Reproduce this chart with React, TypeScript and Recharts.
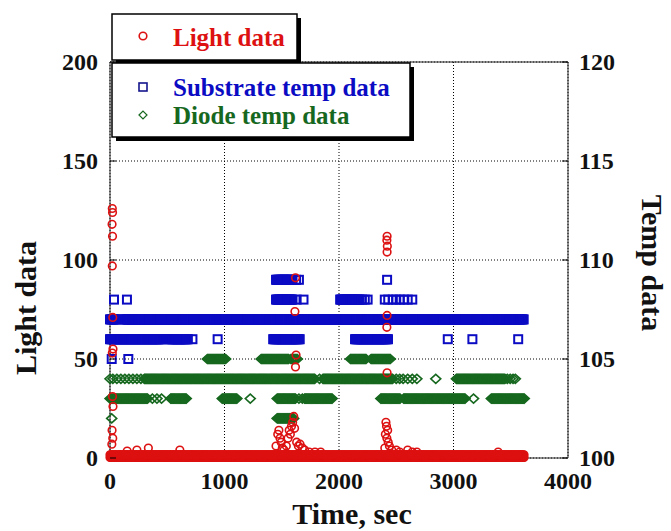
import { ScatterChart, Scatter, XAxis, YAxis, CartesianGrid, ReferenceLine } from 'recharts';

const FONT = '"Liberation Serif", "Times New Roman", serif';
const RED = '#dd1111';
const BLUE = '#0b0bc4';
const GREEN = '#17681f';

// logger sampling interval (sec), used to lay out the runs of constant readings
const STEP = 8;

const timeTicks = [0, 1000, 2000, 3000, 4000];
const lightTicks = [0, 50, 100, 150, 200];
const tempTicks = [100, 105, 110, 115, 120];

// substrate temp: runs of a constant reading [from sec, to sec, temp]
const substrateRuns = [
  [0, 60, 107], [125, 3620, 107],
  [0, 450, 106], [520, 680, 106], [1425, 1660, 106], [2140, 2430, 106],
  [1450, 1600, 108], [2010, 2180, 108],
  [1450, 1600, 109],
];
// substrate temp: isolated readings [sec, temp]
const substrateSingles = [
  [15, 105], [160, 105],
  [35, 108], [148, 108], [1630, 108], [1690, 108], [2200, 108], [2225, 108], [2250, 108],
  [2400, 108], [2430, 108], [2470, 108], [2500, 108], [2530, 108], [2565, 108], [2600, 108], [2640, 108],
  [1625, 109], [1650, 109], [2420, 109],
  [475, 106], [720, 106], [940, 106], [2950, 106], [3165, 106], [3565, 106],
];

// diode temp runs [from sec, to sec, temp]
const diodeRuns = [
  [850, 1010, 105], [1320, 1560, 105], [1580, 1640, 105], [2100, 2240, 105], [2280, 2450, 105],
  [300, 1790, 104], [1860, 2470, 104], [3025, 3450, 104],
  [0, 330, 103], [530, 670, 103], [980, 1110, 103], [1460, 1620, 103], [1700, 1940, 103],
  [2365, 2540, 103], [2565, 3105, 103], [3330, 3625, 103],
  [1460, 1610, 102],
];
const diodeSingles = [
  [0, 104], [25, 104], [60, 104], [95, 104], [130, 104], [165, 104], [200, 104], [235, 104], [270, 104],
  [1830, 104], [2500, 104], [2530, 104], [2560, 104], [2600, 104], [2640, 104], [2680, 104], [2845, 104],
  [3470, 104], [3495, 104], [3520, 104], [3540, 104],
  [370, 103], [410, 103], [450, 103], [1225, 103], [1650, 103], [1680, 103], [3175, 103],
  [15, 102],
];

// light data: baseline runs and the spikes [sec, value]
const lightRuns = [[0, 3620, 0.3], [0, 3620, 1.6]];
const lightSingles = [
  [20, 126], [22, 124], [18, 118], [22, 112], [20, 97], [24, 71], [26, 55], [20, 53], [22, 31], [26, 26],
  [18, 14], [24, 10], [16, 7],
  [150, 3.5], [235, 4], [335, 5], [610, 4],
  [1450, 6], [1465, 12], [1475, 14], [1485, 10], [1495, 8], [1505, 5], [1520, 4], [1540, 6], [1555, 10],
  [1565, 14], [1575, 12], [1585, 16], [1595, 18], [1605, 21], [1612, 15], [1620, 91], [1615, 74],
  [1625, 52], [1620, 46], [1630, 8], [1645, 6], [1660, 7], [1680, 5], [1700, 4], [1740, 3], [1790, 3], [1840, 3],
  [2405, 12], [2410, 18], [2415, 16], [2420, 112], [2418, 110], [2422, 107], [2420, 104], [2420, 72],
  [2418, 66], [2420, 43], [2425, 14], [2418, 10], [2430, 8], [2440, 6], [2400, 5], [2460, 4], [2500, 4],
  [2530, 3], [2600, 4], [2640, 3], [2680, 3], [3390, 3],
];

const toPoints = (runs: number[][], singles: number[][]) => {
  const pts: { t: number; v: number }[] = [];
  runs.forEach(([a, b, v]) => {
    for (let t = a; t <= b; t += STEP) pts.push({ t, v });
  });
  singles.forEach(([t, v]) => pts.push({ t, v }));
  return pts;
};

const substrateData = toPoints(substrateRuns, substrateSingles);
const diodeData = toPoints(diodeRuns, diodeSingles);
const lightData = toPoints(lightRuns, lightSingles);

const CircleMark = (p: any) => (
  <circle cx={p.cx} cy={p.cy} r={3.8} fill="none" stroke={RED} strokeWidth={1.6} />
);
const SquareMark = (p: any) => (
  <rect x={p.cx - 4} y={p.cy - 4} width={8} height={8} fill="none" stroke={BLUE} strokeWidth={2} />
);
const DiamondMark = (p: any) => (
  <path
    d={`M${p.cx - 5},${p.cy}L${p.cx},${p.cy - 4.5}L${p.cx + 5},${p.cy}L${p.cx},${p.cy + 4.5}Z`}
    fill="none"
    stroke={GREEN}
    strokeWidth={1.6}
  />
);

const tickFont = { fontFamily: FONT, fontSize: 24, fontWeight: 700, fill: '#111' };

const LeftTick = ({ x, y, payload }: any) => (
  <g>
    <line x1={x + 12} x2={x + 18} y1={y} y2={y} stroke="#000" />
    <text x={x} y={y} dy="0.35em" textAnchor="end" {...tickFont}>{payload.value}</text>
  </g>
);
const RightTick = ({ x, y, payload }: any) => (
  <g>
    <line x1={x - 17} x2={x - 11} y1={y} y2={y} stroke="#000" />
    <text x={x} y={y} dy="0.35em" textAnchor="start" {...tickFont}>{payload.value}</text>
  </g>
);
const BottomTick = ({ x, y, payload }: any) => (
  <text x={x} y={y} dy={22} textAnchor="middle" {...tickFont}>{payload.value}</text>
);

const titleFont = { fontFamily: FONT, fontSize: 30, fontWeight: 700, fill: '#111' };
const legendFont = { fontFamily: FONT, fontSize: 25, fontWeight: 700 };

export default function App() {
  return (
    <div style={{ position: 'absolute', left: 0, top: 0, width: 671, height: 531, background: '#fff' }}>
      <ScatterChart width={671} height={531} margin={{ top: 62, right: 43, bottom: 33, left: 50 }}>
        <CartesianGrid yAxisId="left" stroke="#000" strokeDasharray="1 2" />
        <XAxis
          type="number"
          dataKey="t"
          domain={[0, 4000]}
          ticks={timeTicks}
          height={40}
          tickMargin={3}
          tickLine={false}
          stroke="#222"
          tick={<BottomTick />}
        />
        <YAxis
          yAxisId="left"
          type="number"
          dataKey="v"
          domain={[0, 200]}
          ticks={lightTicks}
          width={60}
          tickMargin={6}
          tickLine={false}
          stroke="#222"
          tick={<LeftTick />}
        />
        <YAxis
          yAxisId="right"
          orientation="right"
          type="number"
          dataKey="v"
          domain={[100, 120]}
          ticks={tempTicks}
          width={60}
          tickMargin={5}
          tickLine={false}
          stroke="#222"
          tick={<RightTick />}
        />
        <ReferenceLine yAxisId="left" y={200} stroke="#222" />
        <Scatter data={substrateData} yAxisId="right" shape={SquareMark} isAnimationActive={false} />
        <Scatter data={diodeData} yAxisId="right" shape={DiamondMark} isAnimationActive={false} />
        <Scatter data={lightData} yAxisId="left" shape={CircleMark} isAnimationActive={false} />
      </ScatterChart>
      <svg width={671} height={531} style={{ position: 'absolute', left: 0, top: 0, pointerEvents: 'none' }}>
        <text x={352} y={524} textAnchor="middle" {...titleFont}>Time, sec</text>
        <text x={36} y={308} textAnchor="middle" transform="rotate(-90 36 308)" {...titleFont}>Light data</text>
        <text x={642} y={263} textAnchor="middle" transform="rotate(90 642 263)" {...titleFont}>Temp data</text>
        <rect x={116} y={18} width={185} height={46} fill="#000" />
        <rect x={112} y={14} width={185} height={46} fill="#fff" stroke="#000" strokeWidth={1.5} />
        <circle cx={143} cy={36} r={3.8} fill="none" stroke={RED} strokeWidth={1.6} />
        <text x={173} y={46} fill={RED} {...legendFont}>Light data</text>
        <rect x={116} y={67} width={298} height={74} fill="#000" />
        <rect x={112} y={63} width={298} height={74} fill="#fff" stroke="#000" strokeWidth={1.5} />
        <rect x={139} y={83} width={8} height={8} fill="none" stroke="#14148c" strokeWidth={1.6} />
        <text x={173} y={96} fill={BLUE} {...legendFont}>Substrate temp data</text>
        <path d="M139,115L143,111L147,115L143,119Z" fill="none" stroke={GREEN} strokeWidth={1.2} />
        <text x={173} y={124} fill={GREEN} {...legendFont}>Diode temp data</text>
      </svg>
    </div>
  );
}
